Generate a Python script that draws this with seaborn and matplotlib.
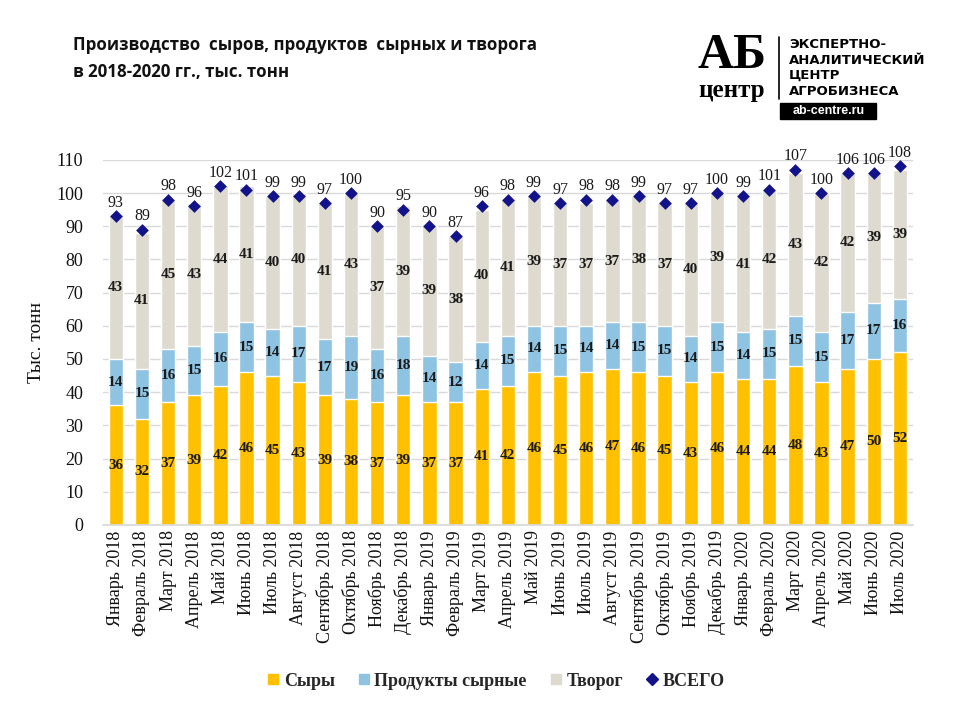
import numpy as np
import pandas as pd
import matplotlib
matplotlib.use("Agg")
import matplotlib.pyplot as plt
from matplotlib.lines import Line2D
from matplotlib.patches import Rectangle
import seaborn as sns

months = ["Январь 2018", "Февраль 2018", "Март 2018", "Апрель 2018", "Май 2018", "Июнь 2018",
          "Июль 2018", "Август 2018", "Сентябрь 2018", "Октябрь 2018", "Ноябрь 2018", "Декабрь 2018",
          "Январь 2019", "Февраль 2019", "Март 2019", "Апрель 2019", "Май 2019", "Июнь 2019",
          "Июль 2019", "Август 2019", "Сентябрь 2019", "Октябрь 2019", "Ноябрь 2019", "Декабрь 2019",
          "Январь 2020", "Февраль 2020", "Март 2020", "Апрель 2020", "Май 2020", "Июнь 2020", "Июль 2020"]
syry = [36, 32, 37, 39, 42, 46, 45, 43, 39, 38, 37, 39,
        37, 37, 41, 42, 46, 45, 46, 47, 46, 45, 43, 46,
        44, 44, 48, 43, 47, 50, 52]
produkty = [14, 15, 16, 15, 16, 15, 14, 17, 17, 19, 16, 18,
            14, 12, 14, 15, 14, 15, 14, 14, 15, 15, 14, 15,
            14, 15, 15, 15, 17, 17, 16]
tvorog = [43, 41, 45, 43, 44, 41, 40, 40, 41, 43, 37, 39,
          39, 38, 40, 41, 39, 37, 37, 37, 38, 37, 40, 39,
          41, 42, 43, 42, 42, 39, 39]
vsego = [93, 89, 98, 96, 102, 101, 99, 99, 97, 100, 90, 95,
         90, 87, 96, 98, 99, 97, 98, 98, 99, 97, 97, 100,
         99, 101, 107, 100, 106, 106, 108]

df = pd.DataFrame({"month": months, "syry": syry, "produkty": produkty,
                   "tvorog": tvorog, "vsego": vsego})
df["s1"] = df["syry"]
df["s2"] = df["syry"] + df["produkty"]
df["s3"] = df["s2"] + df["tvorog"]

C_Y = "#FFC000"
C_B = "#8FC3E2"
C_T = "#DEDAD0"
C_M = "#12128A"

sns.set_theme(style="white")
serif = ["Liberation Serif", "DejaVu Serif"]

fig = plt.figure(figsize=(9.6, 7.2), dpi=100)
ax = fig.add_axes([0.107, 0.271, 0.844, 0.507])

W = 0.55
sns.barplot(data=df, x="month", y="s3", color=C_T, width=W, saturation=1, ax=ax, zorder=2)
sns.barplot(data=df, x="month", y="s2", color=C_B, width=W, saturation=1, ax=ax, zorder=2)
sns.barplot(data=df, x="month", y="s1", color=C_Y, width=W, saturation=1, ax=ax, zorder=2)
sns.stripplot(data=df, x="month", y="vsego", jitter=False, marker="D", color=C_M,
              size=6.5, linewidth=0, ax=ax, zorder=4)

for i, r in df.iterrows():
    ax.text(i, r["syry"] / 2, f"{r['syry']}", ha="center", va="center", fontsize=11,
            fontweight="bold", family=serif, color="#1a1a1a", zorder=5)
    ax.text(i, r["syry"] + r["produkty"] / 2, f"{r['produkty']}", ha="center", va="center",
            fontsize=11, fontweight="bold", family=serif, color="#1a1a1a", zorder=5)
    ax.text(i, r["s2"] + r["tvorog"] / 2, f"{r['tvorog']}", ha="center", va="center",
            fontsize=11, fontweight="bold", family=serif, color="#1a1a1a", zorder=5)
    ax.text(i, r["vsego"] + 1.6, f"{r['vsego']}", ha="center", va="bottom", fontsize=11.5,
            family=serif, color="#1a1a1a", zorder=5)

ax.set_ylim(0, 110)
ax.set_xlim(-0.5, len(months) - 0.5)
ax.set_yticks(range(0, 111, 10))
ax.grid(axis="y", color="#D9D9D9", linewidth=1, zorder=0)
ax.set_axisbelow(True)
for s in ["top", "right", "left"]:
    ax.spines[s].set_visible(False)
ax.spines["bottom"].set_color("#D9D9D9")
ax.tick_params(axis="both", length=0)
ax.set_xticks(range(len(months)))
ax.set_xticklabels(months, rotation=90, fontsize=13, family=serif, color="#111111")
for lab in ax.get_yticklabels():
    lab.set_fontfamily(serif)
    lab.set_fontsize(13)
    lab.set_color("#111111")
ax.tick_params(axis="y", pad=14)
ax.tick_params(axis="x", pad=4)
ax.set_xlabel("")
ax.set_ylabel("Тыс. тонн", fontsize=14, family=serif, color="#111111", labelpad=8)

# Title
fig.text(0.076, 0.937, "Производство  сыров, продуктов  сырных и творога", fontsize=12.2,
         fontweight="bold", family=["Open Sans", "DejaVu Sans"], color="#111111", va="center")
fig.text(0.076, 0.900, "в 2018-2020 гг., тыс. тонн", fontsize=12.2,
         fontweight="bold", family=["Open Sans", "DejaVu Sans"], color="#111111", va="center")

# Logo
fig.text(0.763, 0.922, "АБ", fontsize=36, fontweight="bold", family=serif, color="black",
         ha="center", va="center")
fig.text(0.762, 0.874, "центр", fontsize=18, fontweight="bold", family=serif, color="black",
         ha="center", va="center")
fig.add_artist(Line2D([0.811, 0.811], [0.862, 0.948], color="black", linewidth=1.2,
                      transform=fig.transFigure))
logo_lines = ["ЭКСПЕРТНО-", "АНАЛИТИЧЕСКИЙ", "ЦЕНТР", "АГРОБИЗНЕСА"]
for k, t in enumerate(logo_lines):
    fig.text(0.822, 0.938 - k * 0.0215, t, fontsize=9.5, fontweight="bold",
             family=["DejaVu Sans"], color="black", va="center")
fig.add_artist(Rectangle((0.813, 0.835), 0.100, 0.022, color="black", transform=fig.transFigure))
fig.text(0.863, 0.846, "ab-centre.ru", fontsize=9, color="white", ha="center", va="center",
         family=["Liberation Sans", "DejaVu Sans"], fontweight="bold")

# Legend
handles = [
    Line2D([], [], marker="s", linestyle="", color=C_Y, markersize=7),
    Line2D([], [], marker="s", linestyle="", color=C_B, markersize=7),
    Line2D([], [], marker="s", linestyle="", color=C_T, markersize=7),
    Line2D([], [], marker="D", linestyle="", color=C_M, markersize=6),
]
labels = ["Сыры", "Продукты сырные", "Творог", "ВСЕГО"]
fig.legend(handles, labels, loc="center", bbox_to_anchor=(0.515, 0.054), ncol=4, frameon=False,
           prop={"family": serif, "weight": "bold", "size": 13}, handletextpad=0.1,
           columnspacing=1.1, handlelength=1.0)

fig.savefig("out.png", dpi=100, facecolor="white")
